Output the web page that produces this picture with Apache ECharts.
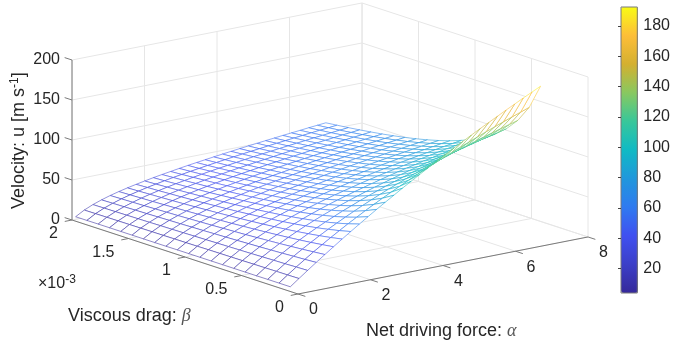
<!DOCTYPE html>
<html>
<head>
<meta charset="utf-8">
<style>html,body{margin:0;padding:0;background:#fff}#chart{width:673px;height:346px}</style>
<script src="https://cdn.jsdelivr.net/npm/echarts@6/dist/echarts.min.js"></script>
</head>
<body>
<div id="chart"></div>
<script>
// net driving force along one side of the mesh
const alpha = [0.1,0.338,0.576,0.814,1.052,1.29,1.528,1.766,2.004,2.242,2.48,2.718,2.956,3.194,3.432,3.67,3.908,4.146,4.384,4.622,4.86,5.098,5.336,5.574,5.812,6.05,6.288,6.526,6.764,7.002];
// viscous drag, in units of 1e-3
const beta = [0.1,0.2,0.3,0.4,0.5,0.6,0.7,0.8,0.9,1.0,1.1,1.2,1.3,1.4,1.5,1.6,1.7,1.8,1.9,2.0];
// velocity, one row per beta, one column per alpha
const velocity = [
[3.5,11.7,19.7,27.6,35.3,42.9,50.4,57.7,64.9,72.0,79.0,85.8,92.5,99.2,105.7,112.1,118.5,124.7,130.8,136.9,142.8,148.7,154.5,160.1,165.7,171.3,176.7,182.2,187.4,192.7],
[3.5,11.5,19.3,26.7,34.0,40.9,47.7,54.2,60.6,66.7,72.7,78.5,84.1,89.5,94.8,100.0,105.1,110.1,114.9,119.6,124.3,128.8,133.1,137.5,141.8,145.9,149.9,153.9,157.8,161.7],
[3.5,11.4,18.8,26.0,32.7,39.1,45.3,51.2,56.8,62.2,67.4,72.5,77.3,82.0,86.5,90.8,95.1,99.2,103.1,107.0,110.8,114.5,118.1,121.5,124.9,128.3,131.5,134.7,137.8,140.9],
[3.4,11.2,18.5,25.2,31.6,37.5,43.2,48.5,53.6,58.4,63.1,67.4,71.8,75.8,79.7,83.5,87.1,90.6,94.1,97.4,100.5,103.7,106.7,109.6,112.5,115.3,118.1,120.8,123.3,125.9],
[3.4,11.1,18.1,24.5,30.5,36.1,41.3,46.2,50.8,55.2,59.4,63.3,67.1,70.7,74.2,77.5,80.7,83.8,86.8,89.7,92.5,95.2,97.9,100.5,103.0,105.4,107.7,110.1,112.4,114.5],
[3.4,10.9,17.7,23.9,29.6,34.8,39.6,44.1,48.4,52.4,56.2,59.8,63.2,66.4,69.5,72.5,75.4,78.2,80.9,83.5,86.0,88.4,90.8,93.0,95.3,97.4,99.6,101.7,103.7,105.7],
[3.4,10.8,17.4,23.3,28.7,33.6,38.1,42.3,46.2,49.9,53.4,56.7,59.8,62.8,65.6,68.3,71.0,73.5,75.9,78.3,80.5,82.7,84.9,87.0,89.0,91.0,93.0,94.9,96.7,98.5],
[3.4,10.7,17.1,22.7,27.8,32.5,36.7,40.7,44.3,47.7,51.0,54.0,56.9,59.6,62.2,64.8,67.2,69.5,71.7,73.9,76.0,78.0,80.0,81.9,83.8,85.6,87.4,89.2,90.9,92.6],
[3.4,10.6,16.8,22.2,27.1,31.5,35.5,39.2,42.6,45.8,48.8,51.6,54.3,56.9,59.3,61.6,63.9,66.0,68.1,70.1,72.0,73.9,75.8,77.6,79.3,81.0,82.7,84.3,86.0,87.5],
[3.4,10.4,16.5,21.7,26.4,30.5,34.3,37.8,41.0,44.0,46.8,49.5,52.0,54.4,56.6,58.8,60.9,63.0,64.9,66.8,68.6,70.4,72.2,73.8,75.5,77.1,78.7,80.2,81.7,83.2],
[3.4,10.3,16.2,21.2,25.7,29.7,33.3,36.5,39.6,42.4,45.1,47.6,50.0,52.2,54.3,56.4,58.4,60.3,62.2,63.9,65.7,67.4,69.0,70.6,72.1,73.7,75.1,76.6,78.0,79.4],
[3.3,10.2,15.9,20.8,25.1,28.9,32.3,35.4,38.3,41.0,43.5,45.9,48.1,50.3,52.3,54.2,56.1,57.9,59.7,61.4,63.0,64.6,66.2,67.7,69.2,70.6,72.1,73.5,74.8,76.1],
[3.3,10.1,15.6,20.3,24.5,28.1,31.4,34.4,37.1,39.7,42.1,44.3,46.5,48.5,50.4,52.3,54.1,55.8,57.5,59.1,60.7,62.2,63.7,65.2,66.6,68.0,69.3,70.6,71.9,73.2],
[3.3,10.0,15.4,20.0,23.9,27.4,30.5,33.4,36.0,38.5,40.7,42.9,44.9,46.9,48.7,50.5,52.2,53.9,55.5,57.1,58.6,60.0,61.5,62.9,64.2,65.5,66.8,68.1,69.4,70.6],
[3.3,9.9,15.1,19.6,23.4,26.7,29.7,32.5,35.0,37.3,39.5,41.6,43.5,45.4,47.2,48.9,50.6,52.1,53.7,55.2,56.6,58.0,59.4,60.8,62.1,63.3,64.6,65.8,67.0,68.2],
[3.3,9.8,14.9,19.2,22.9,26.1,29.0,31.6,34.1,36.3,38.4,40.4,42.3,44.1,45.8,47.4,49.0,50.6,52.0,53.5,54.9,56.2,57.6,58.9,60.1,61.4,62.6,63.8,64.9,66.1],
[3.3,9.7,14.7,18.9,22.4,25.5,28.3,30.9,33.2,35.4,37.4,39.3,41.1,42.8,44.5,46.1,47.6,49.1,50.5,51.9,53.3,54.6,55.9,57.1,58.3,59.5,60.7,61.9,63.0,64.1],
[3.3,9.6,14.5,18.5,22.0,25.0,27.7,30.1,32.4,34.5,36.4,38.3,40.0,41.7,43.3,44.8,46.3,47.8,49.2,50.5,51.8,53.1,54.3,55.5,56.7,57.9,59.0,60.1,61.2,62.3],
[3.2,9.5,14.3,18.2,21.6,24.5,27.1,29.5,31.6,33.6,35.6,37.3,39.0,40.6,42.2,43.7,45.1,46.5,47.9,49.2,50.4,51.7,52.9,54.1,55.2,56.4,57.5,58.6,59.6,60.7],
[3.2,9.4,14.1,17.9,21.2,24.0,26.5,28.8,30.9,32.9,34.7,36.4,38.1,39.7,41.2,42.6,44.0,45.4,46.7,48.0,49.2,50.4,51.6,52.7,53.9,54.9,56.0,57.1,58.1,59.1]
];
const alphaTicks = [0,2,4,6,8];
const betaTicks = [0,0.5,1,1.5,2];
const velocityTicks = [0,50,100,150,200];
const colorbarTicks = [20,40,60,80,100,120,140,160,180];
const parula = ['#35299a','#3c3fc8','#4050f0','#2f7af0','#2097dc','#10bac4','#38c79a','#88c860','#d4b030','#fdbe38','#f9fb15'];
const uMin = 4, uMax = 192.5;

// view of the box: front floor corner and screen step per unit of each axis
function project(a, b, u){
  return [298 + 36.25*a - 113*b, 294 - 7.13*a - 37*b - 0.8*u];
}
function ramp(u){
  return echarts.color.lerp(Math.min(1, Math.max(0, (u-uMin)/(uMax-uMin))), parula);
}

const chart = echarts.init(document.getElementById('chart'));

// box walls, floor grid, axes and ticks as [a1,b1,u1,a2,b2,u2]
const wallGrid = [], axisLines = [];
alphaTicks.forEach(function(a){
  wallGrid.push([a,0,0,a,2,0],[a,2,0,a,2,200]);
  axisLines.push([a,0,0,a,-0.065,0]);
});
betaTicks.forEach(function(b){
  wallGrid.push([0,b,0,8,b,0],[8,b,0,8,b,200]);
  axisLines.push([0,b,0,-0.2,b,0]);
});
velocityTicks.forEach(function(u){
  wallGrid.push([0,2,u,8,2,u],[8,2,u,8,0,u]);
  axisLines.push([0,2,u,0,2.065,u]);
});
axisLines.push([0,0,0,8,0,0],[0,0,0,0,2,0],[0,2,0,0,2,200]);

// mesh cells, back to front so nearer faces hide what is behind
const cells = [];
for(let j=beta.length-2;j>=0;j--){
  for(let i=alpha.length-2;i>=0;i--){
    const m = (velocity[j][i]+velocity[j][i+1]+velocity[j+1][i]+velocity[j+1][i+1])/4;
    cells.push([i,j,m]);
  }
}

function renderSegments(color, width){
  return function(params, api){
    const p1 = api.coord(project(api.value(0),api.value(1),api.value(2)));
    const p2 = api.coord(project(api.value(3),api.value(4),api.value(5)));
    return {type:'line',shape:{x1:p1[0],y1:p1[1],x2:p2[0],y2:p2[1]},style:{stroke:color,lineWidth:width,fill:null}};
  };
}

function renderCell(params, api){
  const i = api.value(0), j = api.value(1);
  const corners = [[i,j],[i+1,j],[i+1,j+1],[i,j+1]];
  const pts = corners.map(function(c){
    return api.coord(project(alpha[c[0]],beta[c[1]],velocity[c[1]][c[0]]));
  });
  const children = [{type:'polygon',shape:{points:pts},style:{fill:'#fff',stroke:null}}];
  for(let k=0;k<4;k++){
    const n = (k+1)%4;
    const u = (velocity[corners[k][1]][corners[k][0]]+velocity[corners[n][1]][corners[n][0]])/2;
    children.push({type:'line',shape:{x1:pts[k][0],y1:pts[k][1],x2:pts[n][0],y2:pts[n][1]},style:{stroke:ramp(u),lineWidth:0.7,opacity:0.8,fill:null}});
  }
  return {type:'group',children:children};
}

const font = '"Liberation Sans", Arial, sans-serif';
const textColor = '#262626';
// tick labels: [text, anchor a, b, u, dx, dy, align]
const labels = [];
alphaTicks.forEach(function(a){ labels.push([String(a),a,0,0,15.5,16,'center']); });
betaTicks.forEach(function(b){ labels.push([String(b),0,b,0,-14,14,'right']); });
velocityTicks.forEach(function(u){ labels.push([String(u),0,2,u,-12,0,'right']); });

function renderLabel(params, api){
  const l = labels[params.dataIndex];
  const p = api.coord(project(l[1],l[2],l[3]));
  return {type:'text',x:p[0]+l[4],y:p[1]+l[5],style:{text:l[0],fill:textColor,font:'16px '+font,textAlign:l[6],textVerticalAlign:'middle'}};
}

const sup = {fontSize:12,fontFamily:'Liberation Sans',fill:textColor,padding:[0,0,9,0]};
const greek = {fontSize:18,fontFamily:'Liberation Serif',fontStyle:'italic',fill:'#555'};
const base = {fontSize:18,fontFamily:'Liberation Sans',fill:textColor};
const small = {fontSize:16,fontFamily:'Liberation Sans',fill:textColor};
function title(x,y,text,rotation){
  return {type:'text',x:x,y:y,rotation:rotation||0,silent:true,z:10,
    style:{text:text,textAlign:'left',textVerticalAlign:'middle',rich:{b:base,m:small,s:sup,g:greek}}};
}

chart.setOption({
  animation:false,
  grid:[
    {left:0,top:0,width:673,height:346,show:false},
    {left:621,top:7,width:17,height:286,show:true,backgroundColor:'transparent',borderColor:'#7a7a7a',borderWidth:1,z:6}
  ],
  xAxis:[
    {gridIndex:0,type:'value',min:0,max:673,show:false},
    {gridIndex:1,type:'value',min:0,max:1,show:false}
  ],
  yAxis:[
    {gridIndex:0,type:'value',min:0,max:346,inverse:true,show:false},
    {gridIndex:1,type:'value',min:uMin,max:uMax,position:'right',z:7,
      splitLine:{show:false},axisLine:{show:false},
      axisTick:{show:true,inside:true,length:3,lineStyle:{color:'#444'},customValues:colorbarTicks},
      axisLabel:{show:true,margin:6,fontSize:16,color:textColor,fontFamily:'Liberation Sans',customValues:colorbarTicks}}
  ],
  visualMap:{
    type:'continuous',min:uMin,max:uMax,dimension:2,seriesIndex:2,
    left:621,top:7,itemWidth:17,itemHeight:286,padding:0,text:null,showLabel:false,
    calculable:false,hoverLink:false,realtime:false,
    inRange:{color:parula},textStyle:{fontSize:0}
  },
  graphic:[
    title(68,316,'{b|Viscous drag: }{g|β}'),
    title(366,331,'{b|Net driving force: }{g|α}'),
    title(38,284,'{m|×10}{s|-3}'),
    title(19,209,'{b|Velocity: u [m s}{s|-1}{b|]}',Math.PI/2)
  ],
  series:[
    {type:'custom',coordinateSystem:'cartesian2d',xAxisIndex:0,yAxisIndex:0,silent:true,progressive:0,z:1,
      data:wallGrid,renderItem:renderSegments('#e6e6e6',1)},
    {type:'custom',coordinateSystem:'cartesian2d',xAxisIndex:0,yAxisIndex:0,silent:true,progressive:0,z:2,
      data:axisLines,renderItem:renderSegments('#7a7a7a',1)},
    {type:'custom',coordinateSystem:'cartesian2d',xAxisIndex:0,yAxisIndex:0,silent:true,progressive:0,z:3,
      data:cells,renderItem:renderCell},
    {type:'custom',coordinateSystem:'cartesian2d',xAxisIndex:0,yAxisIndex:0,silent:true,progressive:0,z:4,
      data:labels.map(function(l,i){return [i];}),renderItem:renderLabel}
  ]
});
</script>
</body>
</html>
